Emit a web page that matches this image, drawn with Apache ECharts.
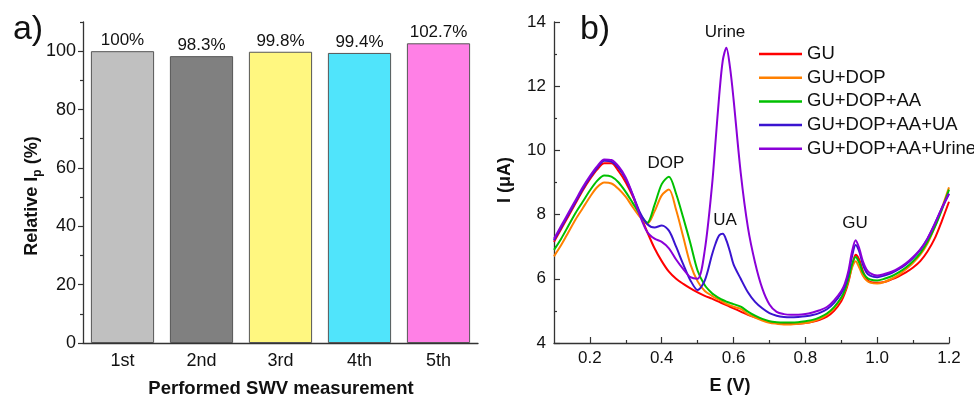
<!DOCTYPE html>
<html>
<head>
<meta charset="utf-8">
<script src="https://cdn.jsdelivr.net/npm/echarts@6/dist/echarts.min.js"></script>
<style>
html,body{margin:0;padding:0;background:#fff;}
#chart{width:974px;height:397px;}
</style>
</head>
<body>
<div id="chart"></div>
<script>
// ---- Panel a) data ----
const measurements = ['1st', '2nd', '3rd', '4th', '5th'];
const relativeIp = [100, 98.3, 99.8, 99.4, 102.7];
const barColors = ['#c0c0c0', '#808080', '#fff780', '#50e4fb', '#ff80e6'];
const yTicksA = [0, 20, 40, 60, 80, 100];

// ---- Panel b) data ----
const E = [0.10,0.12,0.14,0.16,0.18,0.20,0.22,0.24,0.26,0.28,0.30,0.32,0.34,0.36,0.38,0.40,0.42,0.44,0.46,0.48,0.50,0.52,0.54,
  0.55,0.56,0.57,0.58,0.59,0.60,
  0.62,0.64,0.66,0.68,0.70,0.72,0.74,0.76,0.78,0.80,0.82,0.84,0.86,0.88,0.90,
  0.91,0.92,0.93,0.94,0.95,0.96,0.97,0.98,
  1.00,1.02,1.04,1.06,1.08,1.10,1.12,1.14,1.16,1.18,1.20];
const GU = [7.15,7.55,7.95,8.35,8.75,9.1,9.4,9.6,9.6,9.35,9.0,8.55,8.0,7.45,6.95,6.55,6.22,6.0,5.84,5.7,5.58,5.47,5.38,
  5.33,5.28,5.23,5.18,5.13,5.08,
  4.98,4.88,4.8,4.72,4.66,4.62,4.6,4.6,4.6,4.62,4.66,4.72,4.82,5.0,5.3,
  5.55,5.9,6.4,6.75,6.6,6.25,6.0,5.9,
  5.88,5.9,5.98,6.08,6.2,6.35,6.55,6.85,7.25,7.8,8.4];
const GU_DOP = [6.7,7.05,7.45,7.85,8.2,8.55,8.85,9.0,8.97,8.8,8.55,8.22,7.92,7.72,8.1,8.6,8.78,8.15,7.3,6.45,5.92,5.62,5.47,
  5.4,5.34,5.28,5.22,5.17,5.13,
  5.06,4.9,4.79,4.7,4.63,4.6,4.58,4.58,4.6,4.62,4.67,4.75,4.88,5.08,5.4,
  5.62,5.95,6.35,6.55,6.35,6.1,5.95,5.88,
  5.85,5.9,6.0,6.12,6.3,6.5,6.75,7.1,7.6,8.2,8.85];
const GU_DOP_AA = [6.9,7.25,7.65,8.05,8.4,8.75,9.05,9.22,9.18,9.0,8.7,8.35,8.0,7.75,8.3,8.95,9.18,8.65,7.9,7.1,6.25,5.8,5.55,
  5.47,5.4,5.34,5.29,5.25,5.21,
  5.13,4.98,4.85,4.75,4.68,4.65,4.64,4.64,4.65,4.68,4.72,4.8,4.92,5.12,5.42,
  5.65,6.0,6.45,6.68,6.5,6.2,6.05,5.98,
  5.95,6.0,6.08,6.2,6.35,6.55,6.8,7.15,7.6,8.15,8.78];
const GU_DOP_AA_UA = [7.2,7.6,8.0,8.4,8.8,9.15,9.45,9.68,9.65,9.45,9.1,8.6,8.05,7.7,7.6,7.66,7.5,7.0,6.45,5.95,5.65,5.95,6.75,
  7.1,7.35,7.4,7.2,6.85,6.45,
  6.0,5.58,5.28,5.08,4.93,4.85,4.81,4.8,4.81,4.83,4.87,4.94,5.05,5.25,5.55,
  5.78,6.15,6.7,7.05,6.85,6.45,6.2,6.1,
  6.05,6.1,6.18,6.3,6.45,6.65,6.9,7.25,7.7,8.2,8.65];
const GU_DOP_AA_Urine = [7.25,7.65,8.05,8.45,8.85,9.2,9.5,9.72,9.7,9.5,9.15,8.6,7.95,7.45,7.25,7.15,6.95,6.6,6.3,6.05,6.0,6.9,8.9,
  10.3,11.7,12.8,13.2,12.6,11.6,
  9.3,7.6,6.5,5.7,5.2,4.97,4.9,4.88,4.88,4.9,4.95,5.02,5.12,5.33,5.62,
  5.85,6.25,6.85,7.2,6.95,6.55,6.3,6.18,
  6.1,6.15,6.22,6.33,6.48,6.68,6.92,7.25,7.7,8.2,8.65];
const seriesNames = ['GU', 'GU+DOP', 'GU+DOP+AA', 'GU+DOP+AA+UA', 'GU+DOP+AA+Urine'];
const seriesValues = [GU, GU_DOP, GU_DOP_AA, GU_DOP_AA_UA, GU_DOP_AA_Urine];
const lineColors = ['#ff0000', '#ff8000', '#00c000', '#3a14d0', '#8a00d8'];
const xMajorB = [0.2, 0.4, 0.6, 0.8, 1.0, 1.2];
const xMinorB = [0.3, 0.5, 0.7, 0.9, 1.1];

const FONT = '"Liberation Sans", Arial, sans-serif';
const AX = '#333';

const chart = echarts.init(document.getElementById('chart'), null, {renderer: 'canvas'});

const lineSeries = seriesNames.map((n, k) => ({
  name: n, type: 'line', xAxisIndex: 2, yAxisIndex: 2,
  data: E.map((x, i) => [x, seriesValues[k][i]]),
  showSymbol: false, symbol: 'none', smooth: 0.3,
  lineStyle: {width: 2, color: lineColors[k]}, itemStyle: {color: lineColors[k]},
  z: 3 + k
}));

const txt = (text, x, y, size, extra) => Object.assign({
  type: 'text', x: x, y: y,
  style: Object.assign({text: text, font: `${size}px ${FONT}`, fill: '#111', align: 'center', verticalAlign: 'middle'}, extra || {})
});

chart.setOption({
  animation: false,
  backgroundColor: '#fff',
  textStyle: {fontFamily: FONT},
  grid: [
    {left: 83, top: 22, width: 395, height: 321, containLabel: false},
    {left: 554, top: 22, width: 395, height: 321, containLabel: false}
  ],
  legend: {
    data: seriesNames, orient: 'vertical', left: 754, top: 39,
    icon: 'rect', itemWidth: 43, itemHeight: 2.5, itemGap: 3.7,
    textStyle: {fontSize: 18.5, color: '#111', fontFamily: FONT, lineHeight: 20, padding: [0, 0, 0, 0]}
  },
  xAxis: [
    {type: 'category', gridIndex: 0, data: measurements, position: 'bottom',
     axisLine: {lineStyle: {color: AX, width: 1.3}},
     axisTick: {alignWithLabel: true, length: 5, lineStyle: {color: AX, width: 1.2}},
     axisLabel: {fontSize: 18, color: '#111', margin: 9}, splitLine: {show: false}},
    {type: 'category', gridIndex: 0, data: measurements, position: 'bottom',
     axisLine: {show: false},
     axisTick: {length: 3, lineStyle: {color: AX, width: 1.2}},
     axisLabel: {show: false}, splitLine: {show: false}},
    {type: 'value', gridIndex: 1, min: 0.1, max: 1.2, position: 'bottom',
     axisLine: {lineStyle: {color: AX, width: 1.3}},
     axisTick: {inside: true, length: 6, customValues: xMajorB, lineStyle: {color: AX, width: 1.2}},
     axisLabel: {customValues: xMajorB, fontSize: 17, color: '#111', margin: 7, formatter: v => v.toFixed(1)},
     splitLine: {show: false}},
    {type: 'value', gridIndex: 1, min: 0.1, max: 1.2, position: 'bottom',
     axisLine: {show: false},
     axisTick: {inside: true, length: 3, customValues: xMinorB, lineStyle: {color: AX, width: 1.2}},
     axisLabel: {show: false}, splitLine: {show: false}}
  ],
  yAxis: [
    {type: 'value', gridIndex: 0, min: 0, max: 110, position: 'left',
     axisLine: {show: true, lineStyle: {color: AX, width: 1.3}},
     axisTick: {show: true, length: 5, customValues: yTicksA, lineStyle: {color: AX, width: 1.2}},
     axisLabel: {customValues: yTicksA, fontSize: 18, color: '#111', margin: 7},
     splitLine: {show: false}},
    {type: 'value', gridIndex: 0, min: 0, max: 110, position: 'left', offset: 0,
     axisLine: {show: false},
     axisTick: {show: true, length: 3, customValues: [10, 30, 50, 70, 90, 110], lineStyle: {color: AX, width: 1.2}},
     axisLabel: {show: false}, splitLine: {show: false}},
    {type: 'value', gridIndex: 1, min: 4, max: 14, interval: 2, position: 'left',
     axisLine: {show: true, lineStyle: {color: AX, width: 1.3}},
     axisTick: {show: true, inside: true, length: 6, lineStyle: {color: AX, width: 1.2}},
     minorTick: {show: true, splitNumber: 2, length: 3, lineStyle: {color: AX, width: 1.2}},
     axisLabel: {fontSize: 17, color: '#111', margin: 8},
     splitLine: {show: false}}
  ],
  series: [
    {type: 'bar', xAxisIndex: 0, yAxisIndex: 0, barCategoryGap: '20%',
     data: relativeIp.map((v, i) => ({value: v, itemStyle: {color: barColors[i]}})),
     itemStyle: {borderColor: '#555', borderWidth: 1},
     label: {show: true, position: 'top', distance: 2, fontSize: 17, color: '#111', formatter: p => p.value + '%'}}
  ].concat(lineSeries),
  graphic: [
    txt('a)', 28, 30, 34),
    txt('b)', 595, 30, 34),
    {type: 'text', x: 30, y: 196, rotation: Math.PI / 2,
     style: {text: '{m|Relative I}{s|p}{m| (%)}', fill: '#111', align: 'center', verticalAlign: 'middle',
       rich: {m: {fontSize: 18, fontWeight: 'bold', fontFamily: FONT, fill: '#111', lineHeight: 22, verticalAlign: 'bottom'},
              s: {fontSize: 12, fontWeight: 'bold', fontFamily: FONT, fill: '#111', lineHeight: 22, verticalAlign: 'bottom', padding: [0, 0, -3, 0]}}}},
    txt('Performed SWV measurement', 281, 389, 18, {font: `bold 18.5px ${FONT}`}),
    {type: 'text', x: 505, y: 180, rotation: Math.PI / 2,
     style: {text: 'I (μA)', font: `bold 18px ${FONT}`, fill: '#111', align: 'center', verticalAlign: 'middle'}},
    txt('E (V)', 730, 386, 18, {font: `bold 18px ${FONT}`}),
    txt('Urine', 725, 32, 17),
    txt('DOP', 666, 163, 17),
    txt('UA', 725, 220, 17),
    txt('GU', 855, 223, 17)
  ]
});
</script>
</body>
</html>
